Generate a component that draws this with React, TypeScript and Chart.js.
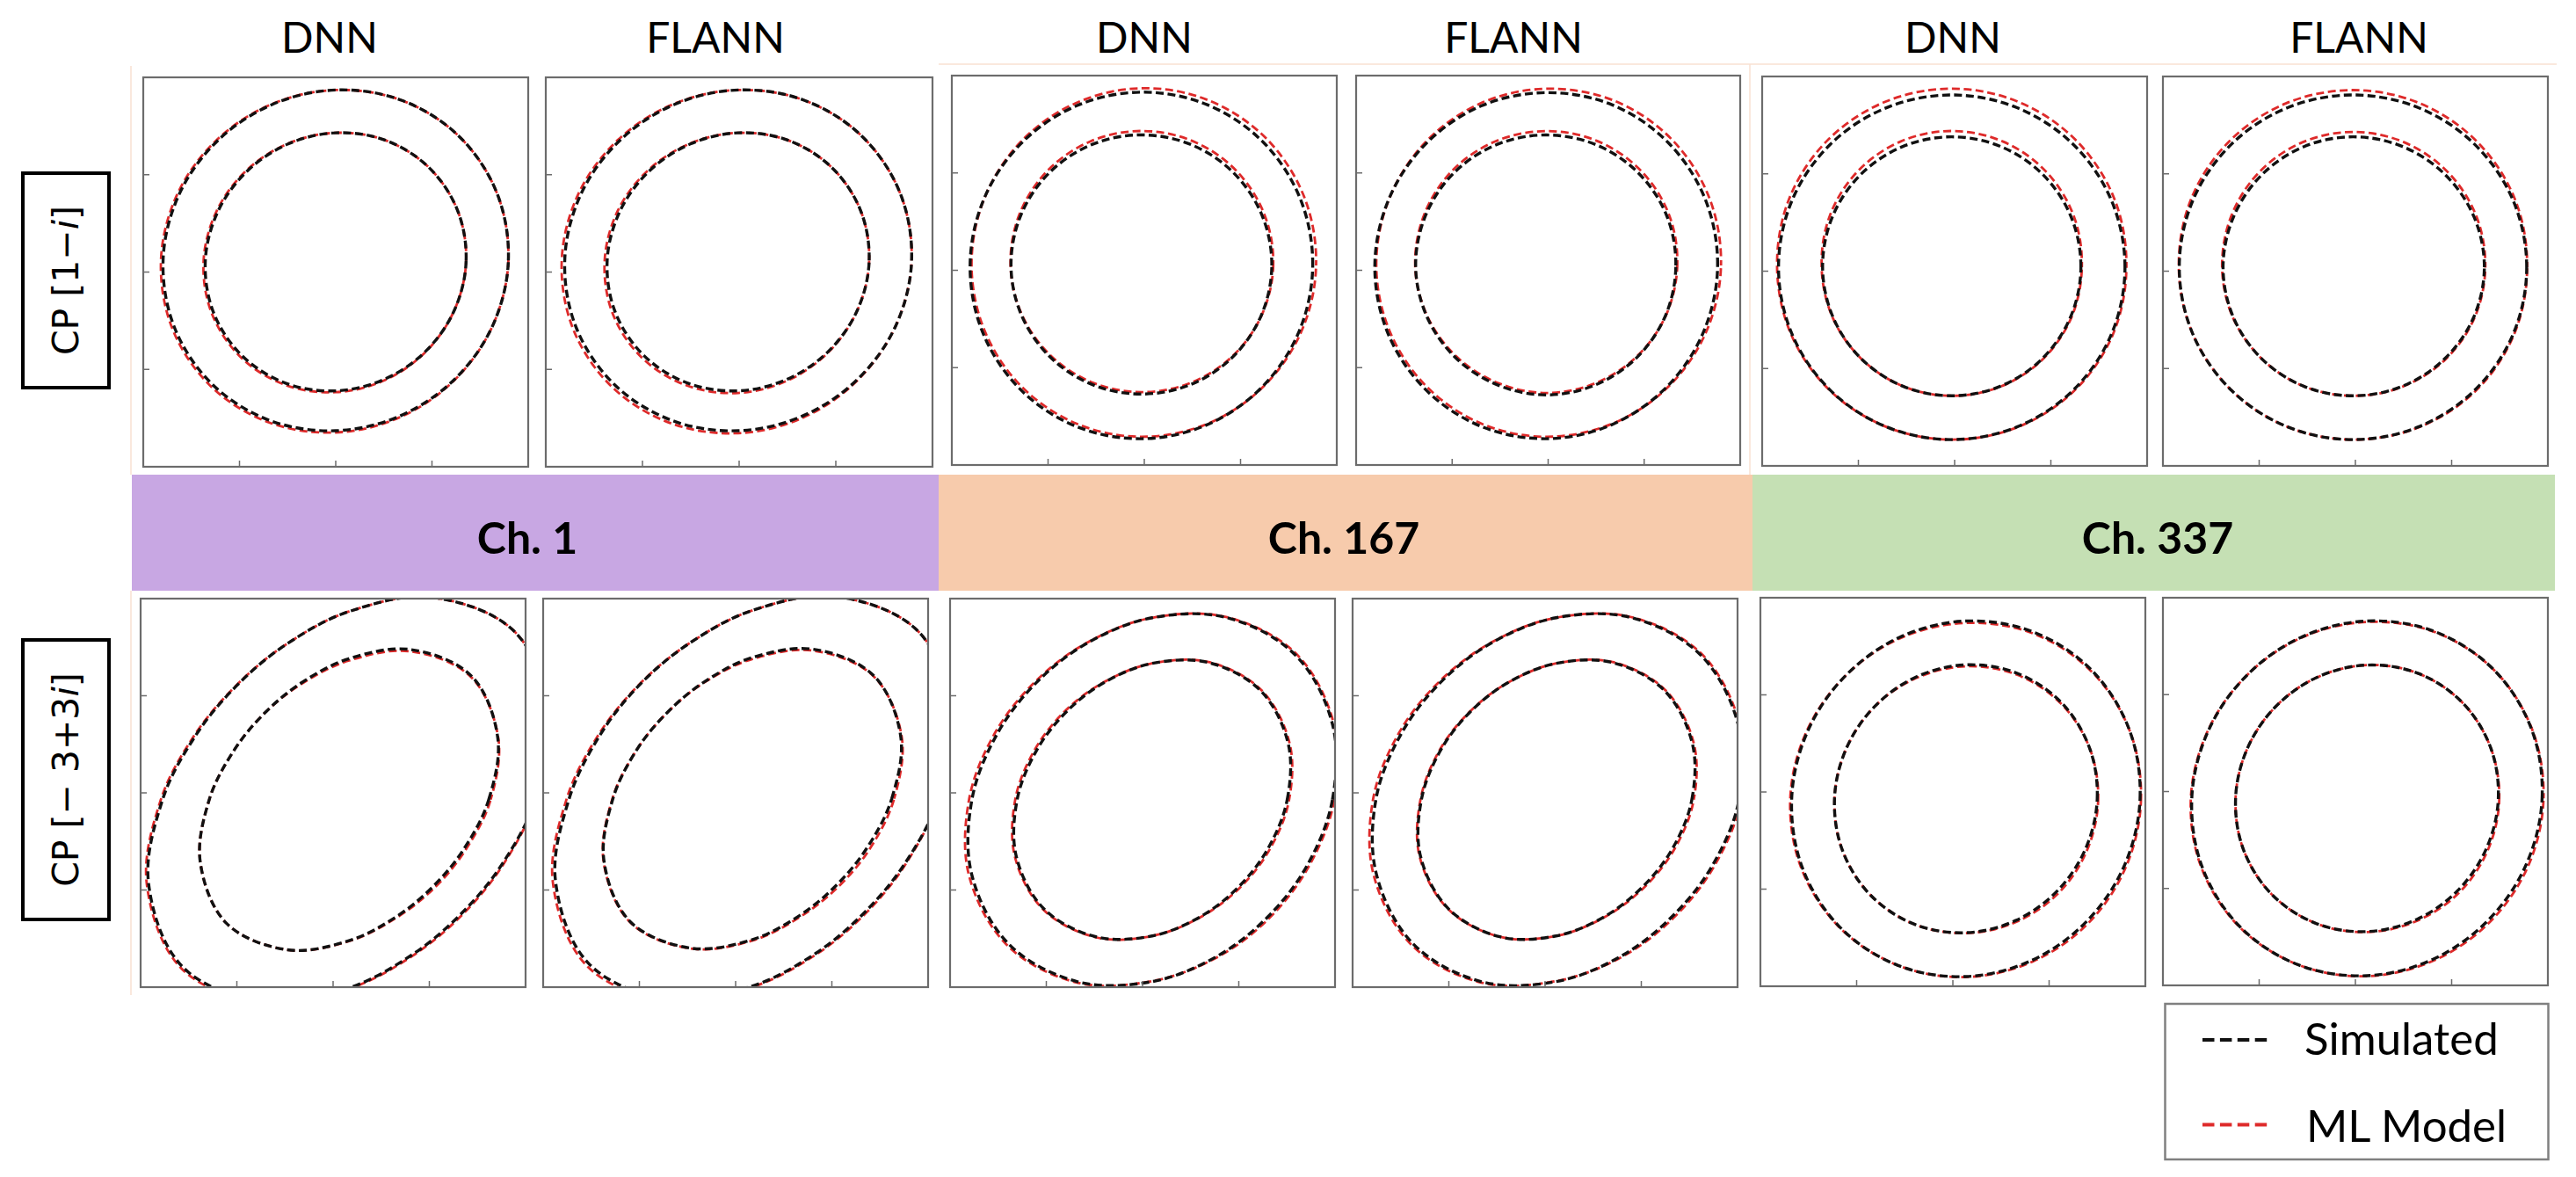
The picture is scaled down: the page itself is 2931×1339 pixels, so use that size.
import React, { useEffect, useRef } from "react";
import { Chart, registerables } from "chart.js";

Chart.register(...registerables);

// ---------------- data ----------------
// Each contour: radii (data units) at fixed polar angles around the panel centre.
const ANGLES_DEG = [0, 22.5, 45, 67.5, 90, 112.5, 135, 157.5, 180, 202.5, 225, 247.5, 270, 292.5, 315, 337.5];
const AXIS_TICKS = [1, 2, 3];
const AXIS_MIN = 0;
const AXIS_MAX = 4;

const MODEL_HEADERS = ["DNN", "FLANN", "DNN", "FLANN", "DNN", "FLANN"];
const CHANNELS = ["Ch. 1", "Ch. 167", "Ch. 337"];
const SERIES_NAMES = ["Simulated", "ML Model"];

// panel order: top row (CP [1−i]) DNN/FLANN for Ch.1, Ch.167, Ch.337, then bottom row (CP [−3+3i])
const CENTER_X = [2.0, 1.99, 1.97, 1.98, 1.97, 1.975, 2.165, 2.17, 2.1, 2.115, 2.135, 2.12];
const CENTER_Y = [2.12, 2.12, 2.05, 2.05, 2.04, 2.04, 1.93, 1.94, 1.93, 1.93, 1.93, 1.93];

const SIM_OUTER = [
  [1.794, 1.812, 1.807, 1.781, 1.75, 1.732, 1.737, 1.763, 1.794, 1.812, 1.807, 1.781, 1.75, 1.732, 1.737, 1.763],
  [1.794, 1.812, 1.807, 1.781, 1.75, 1.732, 1.737, 1.763, 1.794, 1.812, 1.807, 1.781, 1.75, 1.732, 1.737, 1.763],
  [1.78, 1.787, 1.79, 1.787, 1.78, 1.773, 1.77, 1.773, 1.78, 1.787, 1.79, 1.787, 1.78, 1.773, 1.77, 1.773],
  [1.785, 1.79, 1.79, 1.787, 1.775, 1.773, 1.77, 1.775, 1.785, 1.79, 1.79, 1.787, 1.78, 1.773, 1.77, 1.775],
  [1.8, 1.796, 1.785, 1.774, 1.77, 1.774, 1.785, 1.796, 1.8, 1.796, 1.785, 1.774, 1.77, 1.774, 1.785, 1.796],
  [1.805, 1.8, 1.787, 1.775, 1.77, 1.775, 1.787, 1.8, 1.805, 1.8, 1.787, 1.775, 1.77, 1.775, 1.787, 1.8],
  [1.937, 2.254, 2.44, 2.254, 1.937, 1.725, 1.655, 1.725, 1.937, 2.254, 2.44, 2.254, 1.937, 1.725, 1.655, 1.725],
  [1.937, 2.254, 2.44, 2.254, 1.937, 1.725, 1.655, 1.71, 1.9, 2.21, 2.4, 2.24, 1.93, 1.725, 1.655, 1.725],
  [1.873, 2.028, 2.105, 2.028, 1.873, 1.748, 1.703, 1.748, 1.873, 2.028, 2.105, 2.028, 1.873, 1.748, 1.703, 1.748],
  [1.9, 2.045, 2.115, 2.03, 1.873, 1.748, 1.703, 1.748, 1.873, 2.02, 2.1, 2.028, 1.873, 1.748, 1.703, 1.76],
  [1.81, 1.841, 1.86, 1.855, 1.83, 1.799, 1.78, 1.785, 1.81, 1.841, 1.86, 1.855, 1.83, 1.799, 1.78, 1.785],
  [1.82, 1.853, 1.87, 1.86, 1.83, 1.797, 1.78, 1.79, 1.82, 1.853, 1.87, 1.86, 1.83, 1.797, 1.78, 1.79],
];
const ML_OUTER = [
  [1.794, 1.812, 1.807, 1.781, 1.75, 1.737, 1.749, 1.781, 1.816, 1.837, 1.832, 1.803, 1.768, 1.744, 1.742, 1.763],
  [1.794, 1.812, 1.807, 1.781, 1.75, 1.739, 1.754, 1.788, 1.825, 1.847, 1.842, 1.812, 1.775, 1.749, 1.744, 1.763],
  [1.815, 1.832, 1.839, 1.834, 1.82, 1.801, 1.784, 1.771, 1.765, 1.762, 1.761, 1.76, 1.76, 1.765, 1.776, 1.795],
  [1.82, 1.835, 1.84, 1.834, 1.815, 1.8, 1.784, 1.773, 1.77, 1.765, 1.761, 1.76, 1.76, 1.765, 1.78, 1.8],
  [1.815, 1.83, 1.835, 1.835, 1.835, 1.835, 1.835, 1.83, 1.815, 1.806, 1.79, 1.774, 1.77, 1.779, 1.797, 1.811],
  [1.81, 1.822, 1.824, 1.822, 1.82, 1.822, 1.824, 1.822, 1.81, 1.8, 1.787, 1.775, 1.77, 1.78, 1.799, 1.81],
  [1.942, 2.254, 2.44, 2.254, 1.937, 1.725, 1.66, 1.737, 1.955, 2.274, 2.46, 2.269, 1.947, 1.737, 1.67, 1.737],
  [1.937, 2.254, 2.44, 2.254, 1.937, 1.725, 1.66, 1.725, 1.925, 2.24, 2.43, 2.26, 1.94, 1.737, 1.67, 1.735],
  [1.893, 2.043, 2.12, 2.033, 1.873, 1.753, 1.718, 1.773, 1.903, 2.058, 2.125, 2.038, 1.868, 1.758, 1.723, 1.768],
  [1.92, 2.06, 2.13, 2.035, 1.873, 1.753, 1.718, 1.773, 1.903, 2.05, 2.12, 2.038, 1.868, 1.758, 1.723, 1.78],
  [1.82, 1.841, 1.85, 1.84, 1.81, 1.789, 1.78, 1.795, 1.825, 1.853, 1.865, 1.855, 1.835, 1.814, 1.805, 1.805],
  [1.835, 1.858, 1.87, 1.855, 1.82, 1.792, 1.78, 1.795, 1.83, 1.863, 1.875, 1.86, 1.835, 1.812, 1.805, 1.815],
];
const SIM_INNER = [
  [1.355, 1.366, 1.359, 1.337, 1.31, 1.294, 1.299, 1.323, 1.355, 1.378, 1.381, 1.365, 1.34, 1.322, 1.321, 1.335],
  [1.355, 1.366, 1.359, 1.337, 1.31, 1.294, 1.299, 1.323, 1.355, 1.378, 1.381, 1.365, 1.34, 1.322, 1.321, 1.335],
  [1.355, 1.355, 1.35, 1.344, 1.341, 1.344, 1.35, 1.355, 1.355, 1.347, 1.336, 1.326, 1.321, 1.326, 1.336, 1.347],
  [1.35, 1.355, 1.35, 1.344, 1.34, 1.344, 1.352, 1.357, 1.36, 1.35, 1.338, 1.328, 1.33, 1.33, 1.336, 1.345],
  [1.342, 1.344, 1.343, 1.341, 1.34, 1.341, 1.343, 1.344, 1.342, 1.336, 1.329, 1.323, 1.32, 1.323, 1.329, 1.336],
  [1.365, 1.36, 1.35, 1.343, 1.34, 1.34, 1.342, 1.345, 1.35, 1.345, 1.335, 1.325, 1.32, 1.325, 1.338, 1.355],
  [1.452, 1.673, 1.8, 1.673, 1.452, 1.3, 1.25, 1.3, 1.452, 1.673, 1.8, 1.673, 1.452, 1.3, 1.25, 1.3],
  [1.452, 1.673, 1.79, 1.665, 1.452, 1.3, 1.25, 1.3, 1.445, 1.665, 1.79, 1.665, 1.452, 1.3, 1.25, 1.3],
  [1.403, 1.528, 1.59, 1.528, 1.403, 1.305, 1.27, 1.305, 1.403, 1.528, 1.59, 1.528, 1.403, 1.305, 1.27, 1.305],
  [1.41, 1.53, 1.59, 1.528, 1.403, 1.305, 1.27, 1.305, 1.4, 1.525, 1.585, 1.528, 1.403, 1.305, 1.27, 1.31],
  [1.365, 1.388, 1.402, 1.398, 1.379, 1.356, 1.342, 1.346, 1.365, 1.388, 1.402, 1.398, 1.379, 1.356, 1.342, 1.346],
  [1.365, 1.388, 1.4, 1.395, 1.375, 1.352, 1.34, 1.345, 1.365, 1.388, 1.4, 1.395, 1.375, 1.352, 1.34, 1.345],
];
const ML_INNER = [
  [1.355, 1.366, 1.359, 1.337, 1.31, 1.298, 1.309, 1.337, 1.373, 1.398, 1.401, 1.383, 1.354, 1.332, 1.325, 1.335],
  [1.355, 1.366, 1.359, 1.337, 1.31, 1.3, 1.313, 1.345, 1.381, 1.408, 1.411, 1.391, 1.362, 1.336, 1.327, 1.335],
  [1.37, 1.381, 1.385, 1.384, 1.381, 1.38, 1.378, 1.372, 1.36, 1.341, 1.321, 1.306, 1.301, 1.31, 1.328, 1.35],
  [1.365, 1.381, 1.385, 1.384, 1.38, 1.38, 1.38, 1.374, 1.365, 1.344, 1.323, 1.308, 1.31, 1.314, 1.328, 1.348],
  [1.352, 1.373, 1.388, 1.397, 1.4, 1.397, 1.388, 1.373, 1.352, 1.341, 1.329, 1.323, 1.32, 1.326, 1.337, 1.346],
  [1.375, 1.385, 1.388, 1.39, 1.39, 1.387, 1.38, 1.37, 1.36, 1.35, 1.335, 1.325, 1.32, 1.33, 1.348, 1.365],
  [1.472, 1.678, 1.79, 1.653, 1.432, 1.29, 1.25, 1.3, 1.452, 1.673, 1.8, 1.673, 1.457, 1.31, 1.27, 1.32],
  [1.477, 1.683, 1.785, 1.65, 1.437, 1.295, 1.25, 1.3, 1.45, 1.67, 1.795, 1.67, 1.462, 1.315, 1.275, 1.33],
  [1.423, 1.543, 1.6, 1.533, 1.403, 1.31, 1.285, 1.325, 1.423, 1.543, 1.6, 1.533, 1.403, 1.31, 1.285, 1.325],
  [1.43, 1.545, 1.6, 1.533, 1.403, 1.305, 1.275, 1.315, 1.41, 1.535, 1.59, 1.528, 1.403, 1.31, 1.285, 1.33],
  [1.375, 1.388, 1.392, 1.383, 1.364, 1.346, 1.342, 1.346, 1.365, 1.388, 1.402, 1.398, 1.384, 1.371, 1.367, 1.366],
  [1.375, 1.388, 1.4, 1.395, 1.375, 1.352, 1.34, 1.345, 1.365, 1.388, 1.4, 1.395, 1.38, 1.367, 1.365, 1.365],
];

// ---------------- layout / style ----------------
const PANEL_RECTS = [
  [163, 88, 438, 443],
  [621, 88, 440, 443],
  [1083, 86, 438, 443],
  [1543, 86, 437, 443],
  [2005, 87, 438, 443],
  [2461, 87, 438, 443],
  [160, 681, 438, 442],
  [618, 681, 438, 442],
  [1081, 681, 438, 442],
  [1539, 681, 438, 442],
  [2003, 680, 438, 442],
  [2461, 680, 438, 441],
];
const HEADER_X = [375, 814, 1302, 1722, 2222, 2684];
const PAD = 4;
const SIM_COLOR = "#111111";
const ML_COLOR = "#de2a2a";
const FRAME_COLOR = "#6c6c6c";
const DASH = [9, 4.5];

function loopPoints(cx: number, cy: number, radii: number[]) {
  const pts = radii.map((r, k) => {
    const a = (ANGLES_DEG[k] * Math.PI) / 180;
    return { x: cx + r * Math.cos(a), y: cy + r * Math.sin(a) };
  });
  const n = pts.length;
  // wrap neighbours on both ends so the closed curve is smooth; the wrap segments are hidden
  return [pts[n - 1], ...pts, pts[0], pts[1]];
}

function contourDataset(
  label: string,
  cx: number,
  cy: number,
  radii: number[],
  color: string,
  width: number,
  dashOffset: number
) {
  const n = radii.length;
  return {
    label,
    data: loopPoints(cx, cy, radii),
    borderColor: color,
    borderWidth: width,
    borderDash: DASH,
    borderDashOffset: dashOffset,
    pointRadius: 0,
    fill: false,
    tension: 0.34,
    capBezierPoints: false,
    segment: {
      borderColor: (ctx: any) =>
        ctx.p0DataIndex === 0 || ctx.p0DataIndex === n + 1 ? "rgba(0,0,0,0)" : undefined,
    },
  };
}

const framePlugin = {
  id: "frameTicks",
  afterDatasetsDraw(chart: any) {
    const { ctx, chartArea } = chart;
    const { left, top, right, bottom } = chartArea;
    const xs = chart.scales.x;
    const ys = chart.scales.y;
    ctx.save();
    ctx.strokeStyle = FRAME_COLOR;
    ctx.lineWidth = 2.2;
    ctx.setLineDash([]);
    ctx.strokeRect(left, top, right - left, bottom - top);
    ctx.lineWidth = 1.5;
    ctx.beginPath();
    AXIS_TICKS.forEach((v) => {
      const x = xs.getPixelForValue(v);
      ctx.moveTo(x, bottom);
      ctx.lineTo(x, bottom - 7);
      const y = ys.getPixelForValue(v);
      ctx.moveTo(left, y);
      ctx.lineTo(left + 7, y);
    });
    ctx.stroke();
    ctx.restore();
  },
};

function Panel({ idx }: { idx: number }) {
  const ref = useRef<HTMLCanvasElement | null>(null);
  const [l, t, w, h] = PANEL_RECTS[idx];
  useEffect(() => {
    if (!ref.current) return;
    const cx = CENTER_X[idx];
    const cy = CENTER_Y[idx];
    const chart = new Chart(ref.current, {
      type: "line",
      data: {
        datasets: [
          contourDataset(SERIES_NAMES[0] + " outer", cx, cy, SIM_OUTER[idx], SIM_COLOR, 3.4, 0),
          contourDataset(SERIES_NAMES[0] + " inner", cx, cy, SIM_INNER[idx], SIM_COLOR, 3.4, 0),
          contourDataset(SERIES_NAMES[1] + " outer", cx, cy, ML_OUTER[idx], ML_COLOR, 2.8, 3),
          contourDataset(SERIES_NAMES[1] + " inner", cx, cy, ML_INNER[idx], ML_COLOR, 2.8, 3),
        ] as any,
      },
      options: {
        animation: false,
        responsive: false,
        devicePixelRatio: 1,
        events: [],
        layout: { padding: PAD },
        plugins: { legend: { display: false }, tooltip: { enabled: false } },
        elements: { point: { radius: 0 }, line: { capBezierPoints: false } },
        scales: {
          x: { type: "linear", min: AXIS_MIN, max: AXIS_MAX, display: false },
          y: { type: "linear", min: AXIS_MIN, max: AXIS_MAX, display: false },
        },
      } as any,
      plugins: [framePlugin],
    });
    return () => chart.destroy();
  }, [idx]);
  return (
    <canvas
      ref={ref}
      width={w + 2 * PAD}
      height={h + 2 * PAD}
      style={{ position: "absolute", left: l - PAD, top: t - PAD, width: w + 2 * PAD, height: h + 2 * PAD }}
    />
  );
}

function Overlay() {
  const faint = "#f9e1d2";
  return (
    <svg
      width={2931}
      height={1339}
      style={{ position: "absolute", left: 0, top: 0 }}
      xmlns="http://www.w3.org/2000/svg"
    >
      {/* faint image borders */}
      <line x1={149} y1={75} x2={149} y2={540} stroke={faint} strokeWidth={1.5} />
      <line x1={149} y1={672} x2={149} y2={1132} stroke={faint} strokeWidth={1.5} />
      <line x1={1068} y1={73} x2={2909} y2={73} stroke={faint} strokeWidth={1.5} />
      <line x1={1991} y1={73} x2={1991} y2={540} stroke={faint} strokeWidth={1.5} />

      {/* column headers */}
      {MODEL_HEADERS.map((m, i) => (
        <text
          key={"h" + i}
          x={HEADER_X[i]}
          y={60}
          textAnchor="middle"
          fontFamily="Lato, 'Open Sans', sans-serif"
          fontSize={48}
          fill="#000"
        >
          {m}
        </text>
      ))}

      {/* channel bands */}
      <rect x={150} y={540} width={918} height={132} fill="#c8a7e3" />
      <rect x={1068} y={540} width={926} height={132} fill="#f7cbac" />
      <rect x={1994} y={540} width={913} height={132} fill="#c5e0b4" />
      {CHANNELS.map((c, i) => (
        <text
          key={"c" + i}
          x={[600, 1529, 2455][i]}
          y={630}
          textAnchor="middle"
          fontFamily="Lato, 'Open Sans', sans-serif"
          fontWeight={700}
          fontSize={50}
          fill="#000"
        >
          {c}
        </text>
      ))}

      {/* row labels */}
      <rect x={26} y={197} width={98} height={244} fill="none" stroke="#000" strokeWidth={4} />
      <text
        x={79}
        y={319 + 9.5}
        transform="rotate(-90 79 319)"
        textAnchor="middle"
        fontFamily="'DejaVu Sans', sans-serif"
        fontSize={41}
        fill="#000"
      >
        CP [1−<tspan fontStyle="italic">i</tspan>]
      </text>
      <rect x={26} y={728} width={98} height={318} fill="none" stroke="#000" strokeWidth={4} />
      <text
        x={79}
        y={887 + 10}
        transform="rotate(-90 79 887)"
        textAnchor="middle"
        fontFamily="'DejaVu Sans', sans-serif"
        fontSize={41}
        fill="#000"
      >
        CP [− 3+3<tspan fontStyle="italic">i</tspan>]
      </text>

      {/* legend */}
      <rect x={2463.5} y={1142} width={436} height={177} fill="#fff" stroke="#808080" strokeWidth={2.5} />
      <line x1={2506} y1={1183} x2={2585} y2={1183} stroke={SIM_COLOR} strokeWidth={4} strokeDasharray="13.5 6.4" />
      <line x1={2506} y1={1279.5} x2={2585} y2={1279.5} stroke={ML_COLOR} strokeWidth={4} strokeDasharray="13.5 6.4" />
      <text x={2622} y={1200} fontFamily="Lato, 'Open Sans', sans-serif" fontSize={51} fill="#000">
        {SERIES_NAMES[0]}
      </text>
      <text x={2624} y={1299} fontFamily="Lato, 'Open Sans', sans-serif" fontSize={51} fill="#000">
        {SERIES_NAMES[1]}
      </text>
    </svg>
  );
}

export default function App() {
  return (
    <div style={{ position: "absolute", left: 0, top: 0, width: 2931, height: 1339, background: "#fff", overflow: "hidden" }}>
      <Overlay />
      {PANEL_RECTS.map((_, i) => (
        <Panel key={i} idx={i} />
      ))}
    </div>
  );
}
